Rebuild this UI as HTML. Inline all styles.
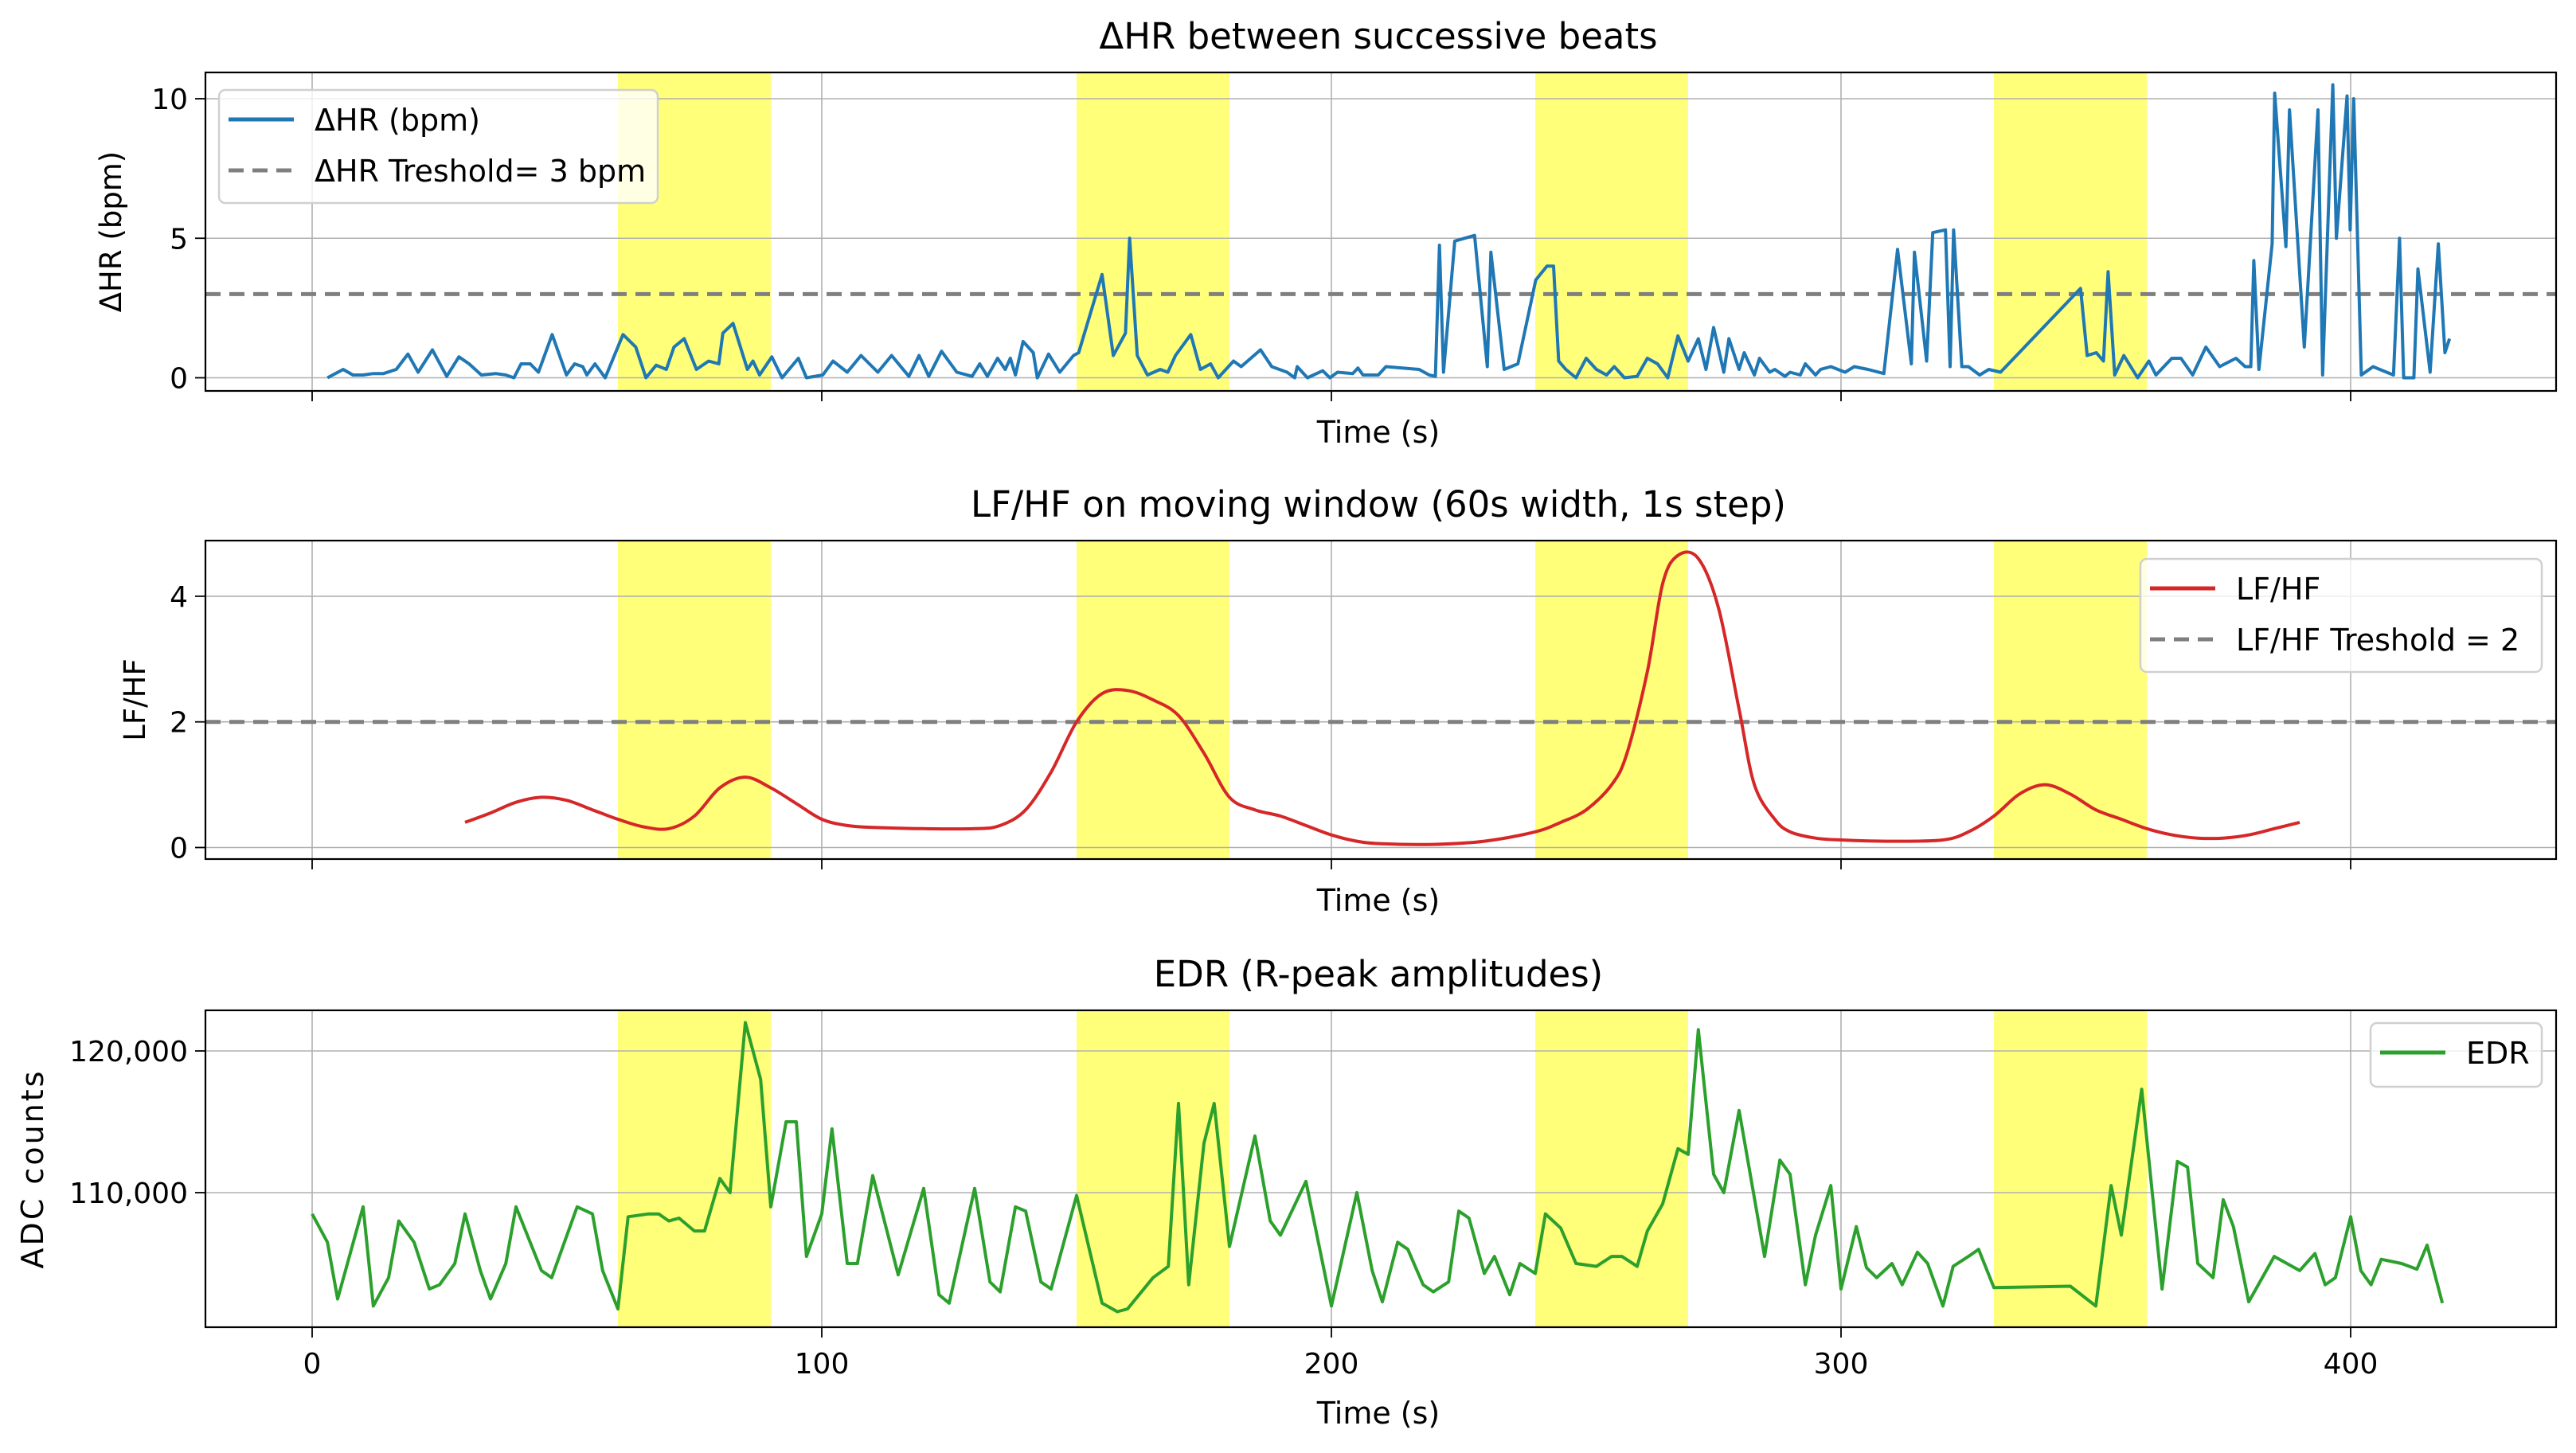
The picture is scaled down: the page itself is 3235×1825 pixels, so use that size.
<!DOCTYPE html>
<html><head><meta charset="utf-8"><style>
html,body{margin:0;padding:0;background:#fff}
svg{display:block}
text{font-family:"DejaVu Sans","Liberation Sans",sans-serif;fill:#000}
</style></head><body>
<svg id="fig" xmlns="http://www.w3.org/2000/svg" width="3235" height="1825" viewBox="0 0 3235 1825"></svg>
<script>
// ===== data =====
const bands = [[60,90],[150,180],[240,270],[330,360]];
const xTicks = [0,100,200,300,400];
const hrT = [3,6.1,8,10,12,14,16.5,18.8,20.8,23.6,26.4,28.8,30.8,33.2,36,38,39.6,41,42.8,44.4,47.1,49.9,51.5,53.1,53.9,55.5,57.5,61,63.5,65.5,67.5,69.5,71,73,75.4,77.8,79.8,80.6,82.6,85.4,86.5,87.8,90.2,92.2,95.4,97,100.2,102.2,105,107.7,111,113.7,117.1,119.1,121,123.5,126.5,129.5,131,132.5,134.5,136,137,138,139.5,141.5,142.3,144.5,146.7,149.4,150.4,155,157.2,159.6,160.4,161.9,163.9,166.4,167.9,169.4,172.4,174.3,176.3,177.8,180.8,182.3,186.1,188.3,191.3,192.8,193.3,195.3,198.3,199.7,201.2,204.2,205.2,206.2,209.2,210.7,217.2,219.2,220.4,221.2,222,224.2,228.1,230.6,231.3,233.9,236.6,240.1,242.3,243.6,244.6,246,248,250,252,254,255.5,257.5,260,262,264,266,268,270,272,273.5,275,277,278,280,281,283,284,286,287,289,290,292,293,295,296,298,300.8,302.6,305.3,308.4,311.1,313.8,314.4,316.8,318,320.5,321.4,322.1,323.7,325,327.2,329,331.3,347,348.3,350.1,351.5,352.4,353.7,355.5,358.2,360.4,361.8,364.9,366.7,369,371.6,374.3,377.5,379.3,380.4,381,382,384.6,385.1,387.3,388,390.9,393.6,394.5,396.5,397.2,399.3,399.9,400.6,402.1,404.4,405.7,408.4,409.6,410.4,412.4,413.2,415.6,417.2,418.5,419.4];
const hrV = [0,0.3,0.1,0.1,0.15,0.15,0.3,0.85,0.2,1.0,0.05,0.75,0.5,0.1,0.15,0.1,0,0.5,0.5,0.2,1.55,0.1,0.5,0.4,0.1,0.5,0,1.55,1.1,0,0.45,0.3,1.1,1.4,0.3,0.6,0.5,1.6,1.95,0.3,0.6,0.1,0.75,0,0.7,0,0.1,0.6,0.2,0.8,0.2,0.8,0.05,0.8,0.05,0.95,0.2,0.05,0.5,0.05,0.7,0.3,0.7,0.1,1.3,0.9,0,0.85,0.2,0.8,0.9,3.7,0.8,1.6,5.0,0.8,0.1,0.3,0.2,0.8,1.55,0.3,0.5,0,0.6,0.4,1.0,0.4,0.2,0,0.4,0,0.25,0,0.2,0.15,0.35,0.1,0.1,0.4,0.3,0.1,0.05,4.75,0.2,4.9,5.1,0.4,4.5,0.3,0.5,3.5,4.0,4.0,0.6,0.3,0,0.7,0.3,0.1,0.4,0,0.05,0.7,0.5,0,1.5,0.6,1.4,0.3,1.8,0.2,1.4,0.3,0.9,0.1,0.7,0.2,0.3,0.05,0.2,0.1,0.5,0.1,0.3,0.4,0.2,0.4,0.3,0.15,4.6,0.5,4.5,0.6,5.2,5.3,0.4,5.3,0.4,0.4,0.1,0.3,0.2,3.2,0.8,0.9,0.6,3.8,0.1,0.8,0,0.6,0.1,0.7,0.7,0.1,1.1,0.4,0.7,0.4,0.4,4.2,0.3,4.8,10.2,4.7,9.6,1.1,9.6,0.1,10.5,5.0,10.1,5.3,10,0.1,0.4,0.3,0.1,5.0,0,0,3.9,0.2,4.8,0.9,1.4];
const lfT = [30,35,40,45,50,55,60,65,70,75,80,85,90,95,100,105,110,120,130,135,140,145,150,155,160,165,170,175,180,185,190,195,200,205,210,220,230,240,245,250,255,258,262,265,268,272,276,280,283,287,290,295,300,310,320,325,330,335,340,345,350,355,360,365,370,375,380,385,390];
const lfV = [0.4,0.55,0.72,0.8,0.75,0.6,0.45,0.33,0.3,0.5,0.95,1.12,0.95,0.7,0.45,0.35,0.32,0.3,0.3,0.35,0.6,1.2,2.0,2.45,2.5,2.35,2.1,1.5,0.8,0.6,0.5,0.35,0.2,0.1,0.06,0.05,0.1,0.25,0.4,0.6,1.0,1.5,2.8,4.2,4.65,4.6,3.8,2.2,1.0,0.45,0.25,0.15,0.12,0.1,0.12,0.25,0.5,0.85,1.0,0.85,0.6,0.45,0.3,0.2,0.15,0.15,0.2,0.3,0.4];
const edrT = [0,3,5,10,12,15,17,20,23,25,28,30,33,35,38,40,45,47,52,55,57,60,62,66,68,70,72,75,77,80,82,85,88,90,93,95,97,100,102,105,107,110,115,120,123,125,130,133,135,138,140,143,145,150,155,158,160,165,168,170,172,175,177,180,185,188,190,195,200,205,208,210,213,215,218,220,223,225,227,230,232,235,237,240,242,245,248,252,255,257,260,262,265,268,270,272,275,277,280,285,288,290,293,295,298,300,303,305,307,310,312,315,317,320,322,325,327,330,345,350,353,355,359,363,366,368,370,373,375,377,380,385,390,393,395,397,400,402,404,406,410,413,415,418];
const edrV = [108.5,106.5,102.5,109,102,104,108,106.5,103.2,103.5,105,108.5,104.5,102.5,105,109,104.5,104,109,108.5,104.5,101.8,108.3,108.5,108.5,108,108.2,107.3,107.3,111,110,122,118,109,115,115,105.5,108.5,114.5,105,105,111.2,104.2,110.3,102.8,102.2,110.3,103.7,103,109,108.7,103.7,103.2,109.8,102.2,101.6,101.8,104,104.8,116.3,103.5,113.5,116.3,106.2,114,108,107,110.8,102,110,104.5,102.3,106.5,106,103.5,103,103.7,108.7,108.2,104.3,105.5,102.8,105,104.3,108.5,107.5,105,104.8,105.5,105.5,104.8,107.3,109.2,113.1,112.7,121.5,111.3,110,115.8,105.5,112.3,111.3,103.5,107,110.5,103.2,107.6,104.7,104,105,103.5,105.8,105,102,104.8,105.5,106,103.3,103.4,102,110.5,107,117.3,103.2,112.2,111.8,105,104,109.5,107.6,102.3,105.5,104.5,105.7,103.5,104,108.3,104.5,103.5,105.3,105,104.6,106.3,102.2];

// ===== layout =====
const NS = 'http://www.w3.org/2000/svg';
const svg = document.getElementById('fig');
const AX_L = 258, AX_R = 3210;
const sx = t => 392 + (t - 0) * (2952 - 392) / 400;
function mk(tag, attrs, parent, txt){
  const e = document.createElementNS(NS, tag);
  for (const k in attrs) e.setAttribute(k, attrs[k]);
  if (txt !== undefined) e.textContent = txt;
  (parent || svg).appendChild(e);
  return e;
}
function smoothPath(P){
  let d = 'M' + P[0][0].toFixed(1) + ',' + P[0][1].toFixed(1);
  for (let i = 0; i < P.length - 1; i++) {
    const p0 = P[Math.max(0, i-1)], p1 = P[i], p2 = P[i+1], p3 = P[Math.min(P.length-1, i+2)];
    const c1x = p1[0] + (p2[0]-p0[0])/6, c1y = p1[1] + (p2[1]-p0[1])/6;
    const c2x = p2[0] - (p3[0]-p1[0])/6, c2y = p2[1] - (p3[1]-p1[1])/6;
    d += ' C' + c1x.toFixed(1) + ',' + c1y.toFixed(1) + ' ' + c2x.toFixed(1) + ',' + c2y.toFixed(1) + ' ' + p2[0].toFixed(1) + ',' + p2[1].toFixed(1);
  }
  return d;
}
function panel(cfg){
  const g = mk('g', {});
  
  
  const top = cfg.top, bot = cfg.bot, sy = cfg.sy;
  mk('rect', {x:AX_L, y:top, width:AX_R-AX_L, height:bot-top, fill:'#fff'}, g);
  bands.forEach((b, i) => {
    const r = mk('rect', {x:sx(b[0]), y:top, width:sx(b[1])-sx(b[0]), height:bot-top, fill:'#ffff7a'}, g);
    
    
  });
  xTicks.forEach(t => {
    mk('line', {x1:sx(t), x2:sx(t), y1:top, y2:bot, stroke:'#b0b0b0', 'stroke-width':1.6}, g);
    mk('line', {x1:sx(t), x2:sx(t), y1:bot, y2:bot+13, stroke:'#000', 'stroke-width':1.8}, g);
    if (cfg.xlabels) {
      const tx = mk('text', {x:sx(t), y:bot+58, 'font-size':36, 'text-anchor':'middle'}, g, String(t));
      
      
    }
  });
  cfg.yTicks.forEach((v, i) => {
    const y = sy(v);
    mk('line', {x1:AX_L, x2:AX_R, y1:y, y2:y, stroke:'#b0b0b0', 'stroke-width':1.6}, g);
    mk('line', {x1:AX_L-13, x2:AX_L, y1:y, y2:y, stroke:'#000', 'stroke-width':1.8}, g);
    const tx = mk('text', {x:AX_L-22, y:y+13, 'font-size':36, 'text-anchor':'end'}, g, cfg.yLabels[i]);
    
    
  });
  if (cfg.thresh !== undefined) {
    const l = mk('line', {x1:AX_L, x2:AX_R, y1:sy(cfg.thresh), y2:sy(cfg.thresh), stroke:'#7f7f7f', 'stroke-width':5, 'stroke-dasharray':'19 11'}, g);
    
    
  }
  const P = cfg.t.map((t, i) => [sx(t), sy(cfg.v[i])]);
  let pl;
  if (cfg.smooth) {
    pl = mk('path', {d:smoothPath(P), fill:'none', stroke:cfg.color, 'stroke-width':4, 'stroke-linejoin':'round'}, g);
  } else {
    pl = mk('polyline', {points:P.map(p => p[0].toFixed(1)+','+p[1].toFixed(1)).join(' '), fill:'none', stroke:cfg.color, 'stroke-width':4, 'stroke-linejoin':'round'}, g);
  }
  
  
  mk('rect', {x:AX_L, y:top, width:AX_R-AX_L, height:bot-top, fill:'none', stroke:'#000', 'stroke-width':2.2}, g);
  const ti = mk('text', {x:1731, y:top-30, 'font-size':45, 'text-anchor':'middle'}, g, cfg.title);
  
  
  const xl = mk('text', {x:1731, y:cfg.xlabY, 'font-size':38, 'text-anchor':'middle'}, g, 'Time (s)');
  
  
  const yl = mk('text', {x:0, y:0, 'font-size':cfg.ylabSize || 37, 'text-anchor':'middle', 'letter-spacing':cfg.ylabLS || 0, transform:'translate(' + cfg.ylabX + ',' + ((top+bot)/2) + ') rotate(-90)'}, g, cfg.ylab);
  
  
  const L = cfg.legend;
  const lg = mk('g', {}, g);
  
  
  mk('rect', {x:L.x, y:L.y, width:L.w, height:L.h, rx:8, fill:'rgba(255,255,255,0.8)', stroke:'#d0d0d0', 'stroke-width':2.5}, lg);
  L.items.forEach((it, i) => {
    const yy = L.y + 37 + i * 64;
    const e = mk('line', {x1:L.x+12, x2:L.x+94, y1:yy, y2:yy, stroke:it.c, 'stroke-width':5, 'stroke-dasharray':it.dash?'19 11':'none'}, lg);
    
    
    const tx = mk('text', {x:L.x+120, y:yy+14, 'font-size':38}, lg, it.label);
    
    
  });
}

panel({name:'delta-hr-panel', top:91, bot:491, sy:v => 474.5 - v*35.05, yTicks:[0,5,10], yLabels:['0','5','10'],
  thresh:3, t:hrT, v:hrV, color:'#1f77b4', seriesName:'delta-hr-line', title:'ΔHR between successive beats',
  xlabY:556, ylab:'ΔHR (bpm)', ylabX:152, xlabels:false,
  legend:{x:275, y:113, w:551, h:142, items:[{c:'#1f77b4', label:'ΔHR (bpm)'},{c:'#7f7f7f', dash:true, label:'ΔHR Treshold= 3 bpm'}]}});

panel({name:'lf-hf-panel', top:679, bot:1079, sy:v => 1064.5 - v*78.9, yTicks:[0,2,4], yLabels:['0','2','4'],
  thresh:2, t:lfT, v:lfV, color:'#d62728', seriesName:'lf-hf-line', title:'LF/HF on moving window (60s width, 1s step)',
  xlabY:1144, ylab:'LF/HF', ylabX:182, xlabels:false, smooth:true,
  legend:{x:2688, y:702, w:504, h:142, items:[{c:'#d62728', label:'LF/HF'},{c:'#7f7f7f', dash:true, label:' LF/HF Treshold = 2'}]}});

panel({name:'edr-panel', top:1269, bot:1667, sy:v => 1498 - (v-110)*17.8, yTicks:[110,120], yLabels:['110,000','120,000'],
  t:edrT, v:edrV, color:'#2ca02c', seriesName:'edr-line', title:'EDR (R-peak amplitudes)',
  xlabY:1788, ylab:'ADC counts', ylabX:54, ylabSize:38, ylabLS:3, xlabels:true,
  legend:{x:2977, y:1285, w:215, h:80, items:[{c:'#2ca02c', label:'EDR'}]}});
</script>
</body></html>
